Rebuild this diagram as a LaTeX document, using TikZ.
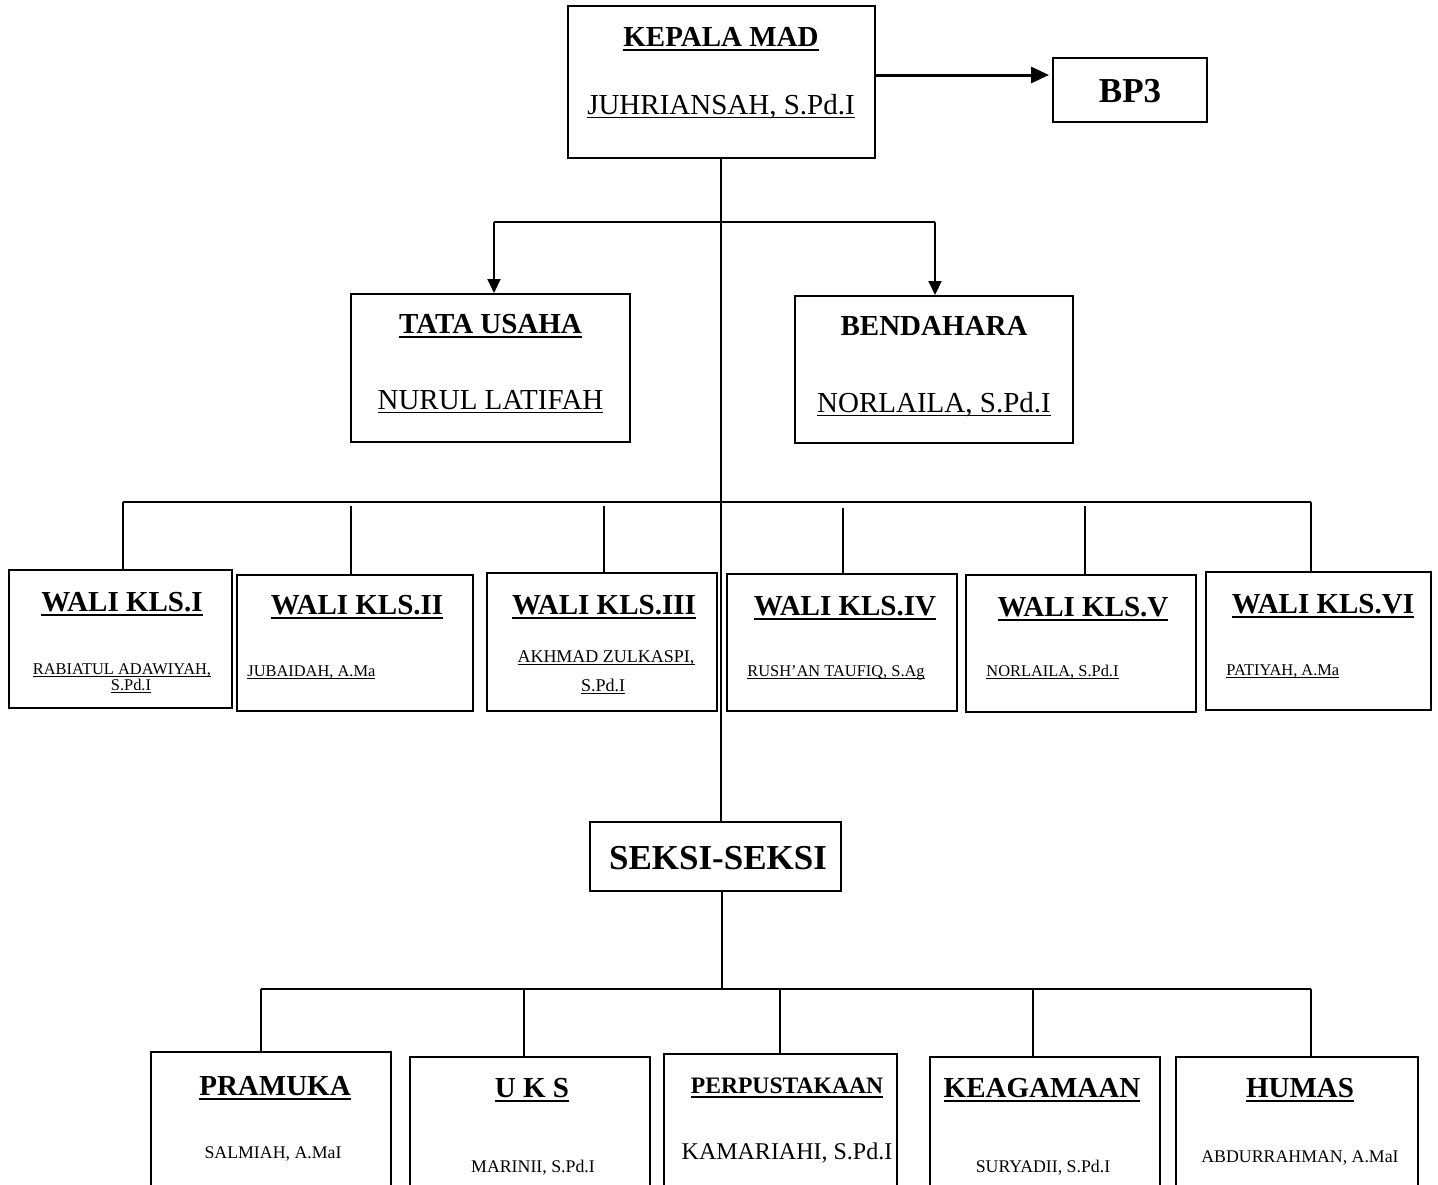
\documentclass[tikz,border=0pt]{standalone}
\usepackage{fontspec}
\setmainfont{Liberation Serif}
\usetikzlibrary{arrows.meta}
\newcommand{\orgul}[3]{\setbox0=\hbox{#3}\rlap{\rule[#1]{\wd0}{#2}}\box0}
\newcommand{\ttlu}[1]{\orgul{-2.7pt}{1.4pt}{#1}}
\newcommand{\nmu}[1]{\orgul{-2.1pt}{0.6pt}{#1}}
\newcommand{\snmu}[1]{\orgul{-1.3pt}{0.4pt}{#1}}
\tikzset{
    box/.style={draw,line width=1pt,inner sep=0pt},
    ttl/.style={anchor=base,inner sep=0pt,font=\fontsize{14.5pt}{17pt}\selectfont\bfseries},
    nm/.style={anchor=base,inner sep=0pt,font=\fontsize{14.5pt}{17pt}\selectfont},
    snm/.style={anchor=base,inner sep=0pt,font=\fontsize{8.2pt}{10pt}\selectfont},
    link/.style={line width=0.8pt},
    arr/.style={line width=1pt,-{Triangle[length=7pt,width=6.5pt]}}
}
\begin{document}
\begin{tikzpicture}[x=0.5pt,y=-0.5pt]
    \clip (0,0) rectangle (1438,1184);
    \fill[white] (0,0) rectangle (1438,1184);
    %Kepala
    \node[box,minimum width=153.5pt,minimum height=76pt] (kepala) at (721,82) {};
    \node[ttl] (kepala-t) at (721,46) {\ttlu{KEPALA MAD}};
    \node[nm] (kepala-n) at (721,114) {\nmu{JUHRIANSAH, S.Pd.I}};
    \node[box,minimum width=77pt,minimum height=32pt] (bp3) at (1130,90) {};
    \node[ttl,font=\fontsize{17.5pt}{20pt}\selectfont\bfseries] (bp3-t) at (1130,102) {BP3};
    %Staf
    \node[box,minimum width=139.5pt,minimum height=74pt] (tata) at (490.5,368) {};
    \node[ttl] (tata-t) at (490.5,333) {\ttlu{TATA USAHA}};
    \node[nm] (tata-n) at (490.5,409) {\nmu{NURUL LATIFAH}};
    \node[box,minimum width=139pt,minimum height=73.5pt] (benda) at (934,369.5) {};
    \node[ttl] (benda-t) at (934,335) {BENDAHARA};
    \node[nm] (benda-n) at (934,412) {\nmu{NORLAILA, S.Pd.I}};
    %Wali kelas
    \node[box,minimum width=111.5pt,minimum height=69pt] (w1) at (120.5,639) {};
    \node[box,minimum width=118pt,minimum height=68pt] (w2) at (355,643) {};
    \node[box,minimum width=115pt,minimum height=69pt] (w3) at (602,642) {};
    \node[box,minimum width=115pt,minimum height=68.5pt] (w4) at (842,642.5) {};
    \node[box,minimum width=115pt,minimum height=68.5pt] (w5) at (1081,643.5) {};
    \node[box,minimum width=112.5pt,minimum height=69pt] (w6) at (1318.5,641) {};
    \node[ttl] (w1-t) at (122,611) {\ttlu{WALI KLS.I}};
    \node[ttl] (w2-t) at (357,614) {\ttlu{WALI KLS.II}};
    \node[ttl] (w3-t) at (604,614) {\ttlu{WALI KLS.III}};
    \node[ttl] (w4-t) at (845,615) {\ttlu{WALI KLS.IV}};
    \node[ttl] (w5-t) at (1083,616) {\ttlu{WALI KLS.V}};
    \node[ttl] (w6-t) at (1323,613) {\ttlu{WALI KLS.VI}};
    \node[snm] (w1-n) at (122,674) {\snmu{RABIATUL ADAWIYAH,}};
    \node[snm] (w1-m) at (131,690) {\snmu{S.Pd.I}};
    \node[snm,anchor=base west] (w2-n) at (247,676) {\snmu{JUBAIDAH, A.Ma}};
    \node[snm,font=\fontsize{9pt}{11pt}\selectfont] (w3-n) at (606,662) {\snmu{AKHMAD ZULKASPI,}};
    \node[snm,font=\fontsize{9pt}{11pt}\selectfont] (w3-m) at (603,691) {\snmu{S.Pd.I}};
    \node[snm,anchor=base west] (w4-n) at (747,676) {\snmu{RUSH’AN TAUFIQ, S.Ag}};
    \node[snm,anchor=base west] (w5-n) at (986,676) {\snmu{NORLAILA, S.Pd.I}};
    \node[snm,anchor=base west] (w6-n) at (1226,675) {\snmu{PATIYAH, A.Ma}};
    %Seksi
    \node[box,minimum width=125.5pt,minimum height=34.5pt] (seksi) at (715.5,856.5) {};
    \node[ttl,font=\fontsize{17.5pt}{20pt}\selectfont\bfseries] (seksi-t) at (718,869) {SEKSI-SEKSI};
    \node[box,minimum width=120pt,minimum height=84pt] (pram) at (271,1136) {};
    \node[box,minimum width=120pt,minimum height=81.5pt] (uks) at (530,1138.5) {};
    \node[box,minimum width=116.5pt,minimum height=83pt] (perp) at (780.5,1137) {};
    \node[box,minimum width=115pt,minimum height=81.5pt] (keag) at (1045,1138.5) {};
    \node[box,minimum width=121pt,minimum height=81.5pt] (humas) at (1297,1138.5) {};
    \node[ttl] (pram-t) at (275,1095) {\ttlu{PRAMUKA}};
    \node[ttl] (uks-t) at (532,1097) {\ttlu{U K S}};
    \node[ttl,font=\fontsize{11.8pt}{14pt}\selectfont\bfseries] (perp-t) at (787,1093) {\ttlu{PERPUSTAKAAN}};
    \node[ttl] (keag-t) at (1042,1097) {\ttlu{KEAGAMAAN}};
    \node[ttl] (humas-t) at (1300,1097) {\ttlu{HUMAS}};
    \node[snm,font=\fontsize{8.9pt}{11pt}\selectfont] (pram-n) at (273,1158) {SALMIAH, A.MaI};
    \node[snm,font=\fontsize{8.9pt}{11pt}\selectfont] (uks-n) at (533,1172) {MARINII, S.Pd.I};
    \node[nm,font=\fontsize{12pt}{14pt}\selectfont] (perp-n) at (787,1159) {KAMARIAHI, S.Pd.I};
    \node[snm,font=\fontsize{8.9pt}{11pt}\selectfont] (keag-n) at (1043,1172) {SURYADII, S.Pd.I};
    \node[snm,font=\fontsize{8.9pt}{11pt}\selectfont] (humas-n) at (1300,1162) {ABDURRAHMAN, A.MaI};
    %Connectors
    \draw[line width=1.5pt,shorten >=1.5pt,-{Triangle[length=9pt,width=8pt]}] ([yshift=3.5pt]kepala.east) -- ([yshift=7.5pt]bp3.west);
    \draw[link] (kepala.south) -- (kepala.south |- seksi.north);
    \coordinate (tbus) at (494,222);
    \coordinate (bbus) at (935,222);
    \draw[link] (tbus) -- (bbus);
    \draw[arr] (tbus) -- (tbus |- tata.north);
    \draw[arr] (bbus) -- (bbus |- benda.north);
    \draw[link] (123,502) -- (1311,502);
    \foreach \n/\x/\y in {w1/123/502,w2/351/506,w3/604/506,w4/843/508,w5/1085/506,w6/1311/502} {
        \coordinate (t\n) at (\x,\y);
        \draw[link] (t\n) -- (t\n |- \n.north);
    }
    \coordinate (sbus) at (722,989);
    \draw[link] (seksi.south -| sbus) -- (sbus);
    \draw[link] (261,989) -- (1311,989);
    \foreach \n/\x in {pram/261,uks/524,perp/780,keag/1033,humas/1311} {
        \coordinate (t\n) at (\x,989);
        \draw[link] (t\n) -- (t\n |- \n.north);
    }
\end{tikzpicture}
\end{document}
